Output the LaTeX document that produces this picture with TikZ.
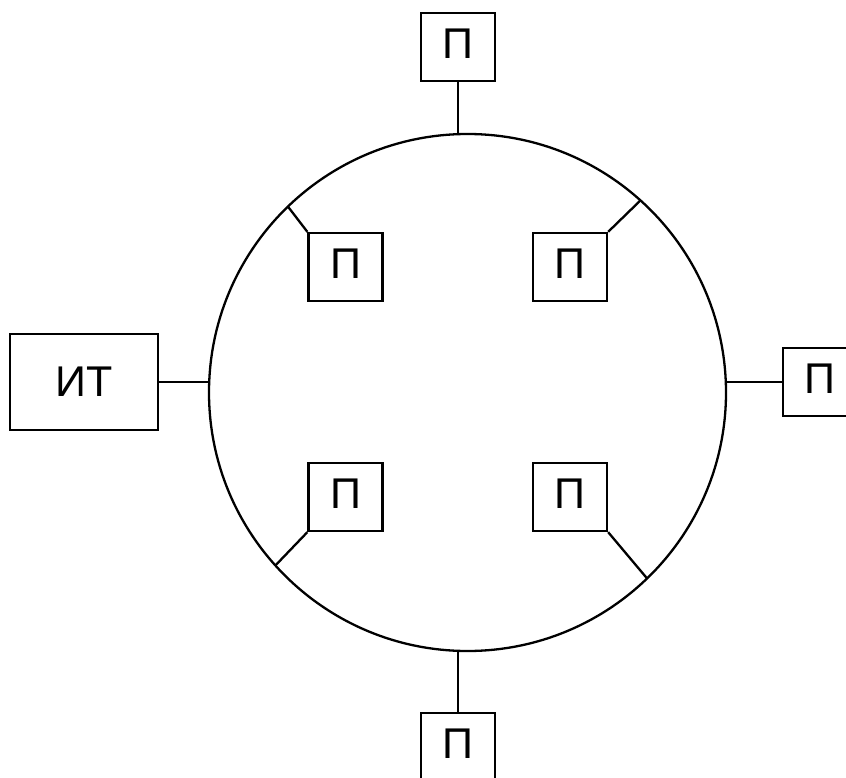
\documentclass[tikz,border=0pt]{standalone}
\usepackage{fontspec}
\setmainfont{Liberation Sans}
\begin{document}
\begin{tikzpicture}[x=1pt,y=-1pt,line width=2.3pt,
  unit/.style={draw,rectangle,minimum width=74pt,minimum height=68pt,
    inner sep=0pt,text depth=6pt,font=\fontsize{43}{48}\selectfont},
  source/.style={draw,rectangle,minimum width=148pt,minimum height=96pt,
    inner sep=0pt,font=\fontsize{43}{48}\selectfont},
  ring/.style={draw,circle,minimum size=517pt,inner sep=0pt,outer sep=0pt}]
\useasboundingbox (0,0) rectangle (846,778);
% shared ring
\node[ring] (bus) at (467.5,392.5) {};
% source terminal
\node[source] (it) at (84,382) {ИТ};
% outer stations
\node[unit] (pt) at (458,47) {П};
\node[unit] (pb) at (458,747) {П};
\node[unit] (pr) at (820,382) {П};
% inner stations
\node[unit] (ul) at (345.5,267) {П};
\node[unit] (ur) at (570,267) {П};
\node[unit] (ll) at (345.5,497) {П};
\node[unit] (lr) at (570,497) {П};
% taps onto the ring
\draw (it.east) -- (it.east -| bus.west);
\draw (pr.west) -- (pr.west -| bus.east);
\draw (pt.south) -- (pt.south |- bus.north);
\draw (pb.north) -- (pb.north |- bus.south);
\draw (ul.north west) -- (bus.134.5);
\draw (ur.north east) -- (bus.48);
\draw (ll.south west) -- (bus.222);
\draw (lr.south east) -- (bus.314.5);
\end{tikzpicture}
\end{document}
